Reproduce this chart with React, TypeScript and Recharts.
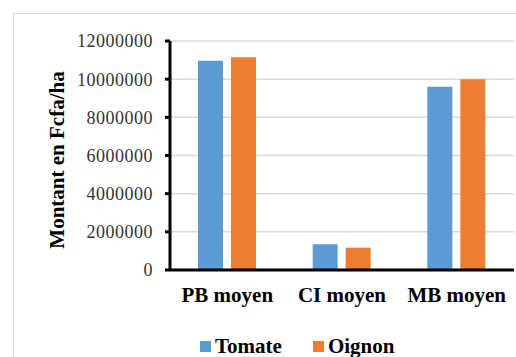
import { BarChart, Bar, XAxis, YAxis, CartesianGrid } from 'recharts';

// Indicateurs économiques moyens (Fcfa/ha)
const indicateurs = ['PB moyen', 'CI moyen', 'MB moyen'];
const tomate = [10970000, 1350000, 9600000];
const oignon = [11150000, 1170000, 10000000];
const yTicks = [0, 2000000, 4000000, 6000000, 8000000, 10000000, 12000000];

const BLUE = '#5b9bd5';
const ORANGE = '#ed7d31';
const FONT = 'Liberation Serif, Times New Roman, Tinos, DejaVu Serif, serif';

const data = indicateurs.map((name, i) => ({
  name,
  Tomate: tomate[i],
  Oignon: oignon[i],
}));

function YLabel() {
  return (
    <text
      x={57}
      y={160}
      transform="rotate(-90, 57, 160)"
      textAnchor="middle"
      dominantBaseline="central"
      style={{ fontFamily: FONT, fontWeight: 'bold', fontSize: 21 }}
      fill="#000"
    >
      Montant en Fcfa/ha
    </text>
  );
}

function LegendItem({ color, label }: { color: string; label: string }) {
  return (
    <div style={{ display: 'flex', alignItems: 'center', gap: 4 }}>
      <span style={{ width: 11, height: 11, background: color, display: 'inline-block' }} />
      <span>{label}</span>
    </div>
  );
}

export default function App() {
  return (
    <div
      style={{
        position: 'absolute',
        top: 0,
        left: 0,
        width: 516,
        height: 357,
        overflow: 'hidden',
        background: '#fff',
        fontFamily: FONT,
      }}
    >
      {/* cadre du graphique */}
      <div
        style={{
          position: 'absolute',
          left: 13,
          top: 13,
          width: 600,
          height: 400,
          border: '1.5px solid #d9d9d9',
        }}
      />
      <BarChart
        width={516}
        height={357}
        data={data}
        margin={{ top: 41, right: 2, bottom: 57, left: 0 }}
        barSize={25}
        barGap={8}
        style={{ position: 'absolute', top: 0, left: 0, fontFamily: FONT }}
      >
        <CartesianGrid vertical={false} stroke="#d9d9d9" strokeWidth={1.5} />
        <XAxis
          dataKey="name"
          height={30}
          axisLine={{ stroke: '#000', strokeWidth: 3 }}
          tickLine={false}
          tickSize={0}
          tickMargin={17}
          tick={{ fill: '#000', fontSize: 21, fontWeight: 'bold', fontFamily: FONT }}
        />
        <YAxis
          width={170}
          domain={[0, 12000000]}
          ticks={yTicks}
          interval={0}
          axisLine={{ stroke: '#000', strokeWidth: 3 }}
          tickLine={{ stroke: '#000', strokeWidth: 3 }}
          tickSize={5}
          tickMargin={12}
          tick={{ fill: '#333', fontSize: 18, fontFamily: FONT, letterSpacing: 0.5 }}
          label={<YLabel />}
        />
        <Bar dataKey="Tomate" fill={BLUE} isAnimationActive={false} />
        <Bar dataKey="Oignon" fill={ORANGE} isAnimationActive={false} />
      </BarChart>
      <div
        style={{
          position: 'absolute',
          left: 200,
          top: 334,
          display: 'flex',
          gap: 31,
          fontSize: 21,
          fontWeight: 'bold',
          color: '#000',
          lineHeight: '24px',
        }}
      >
        <LegendItem color={BLUE} label="Tomate" />
        <LegendItem color={ORANGE} label="Oignon" />
      </div>
    </div>
  );
}
